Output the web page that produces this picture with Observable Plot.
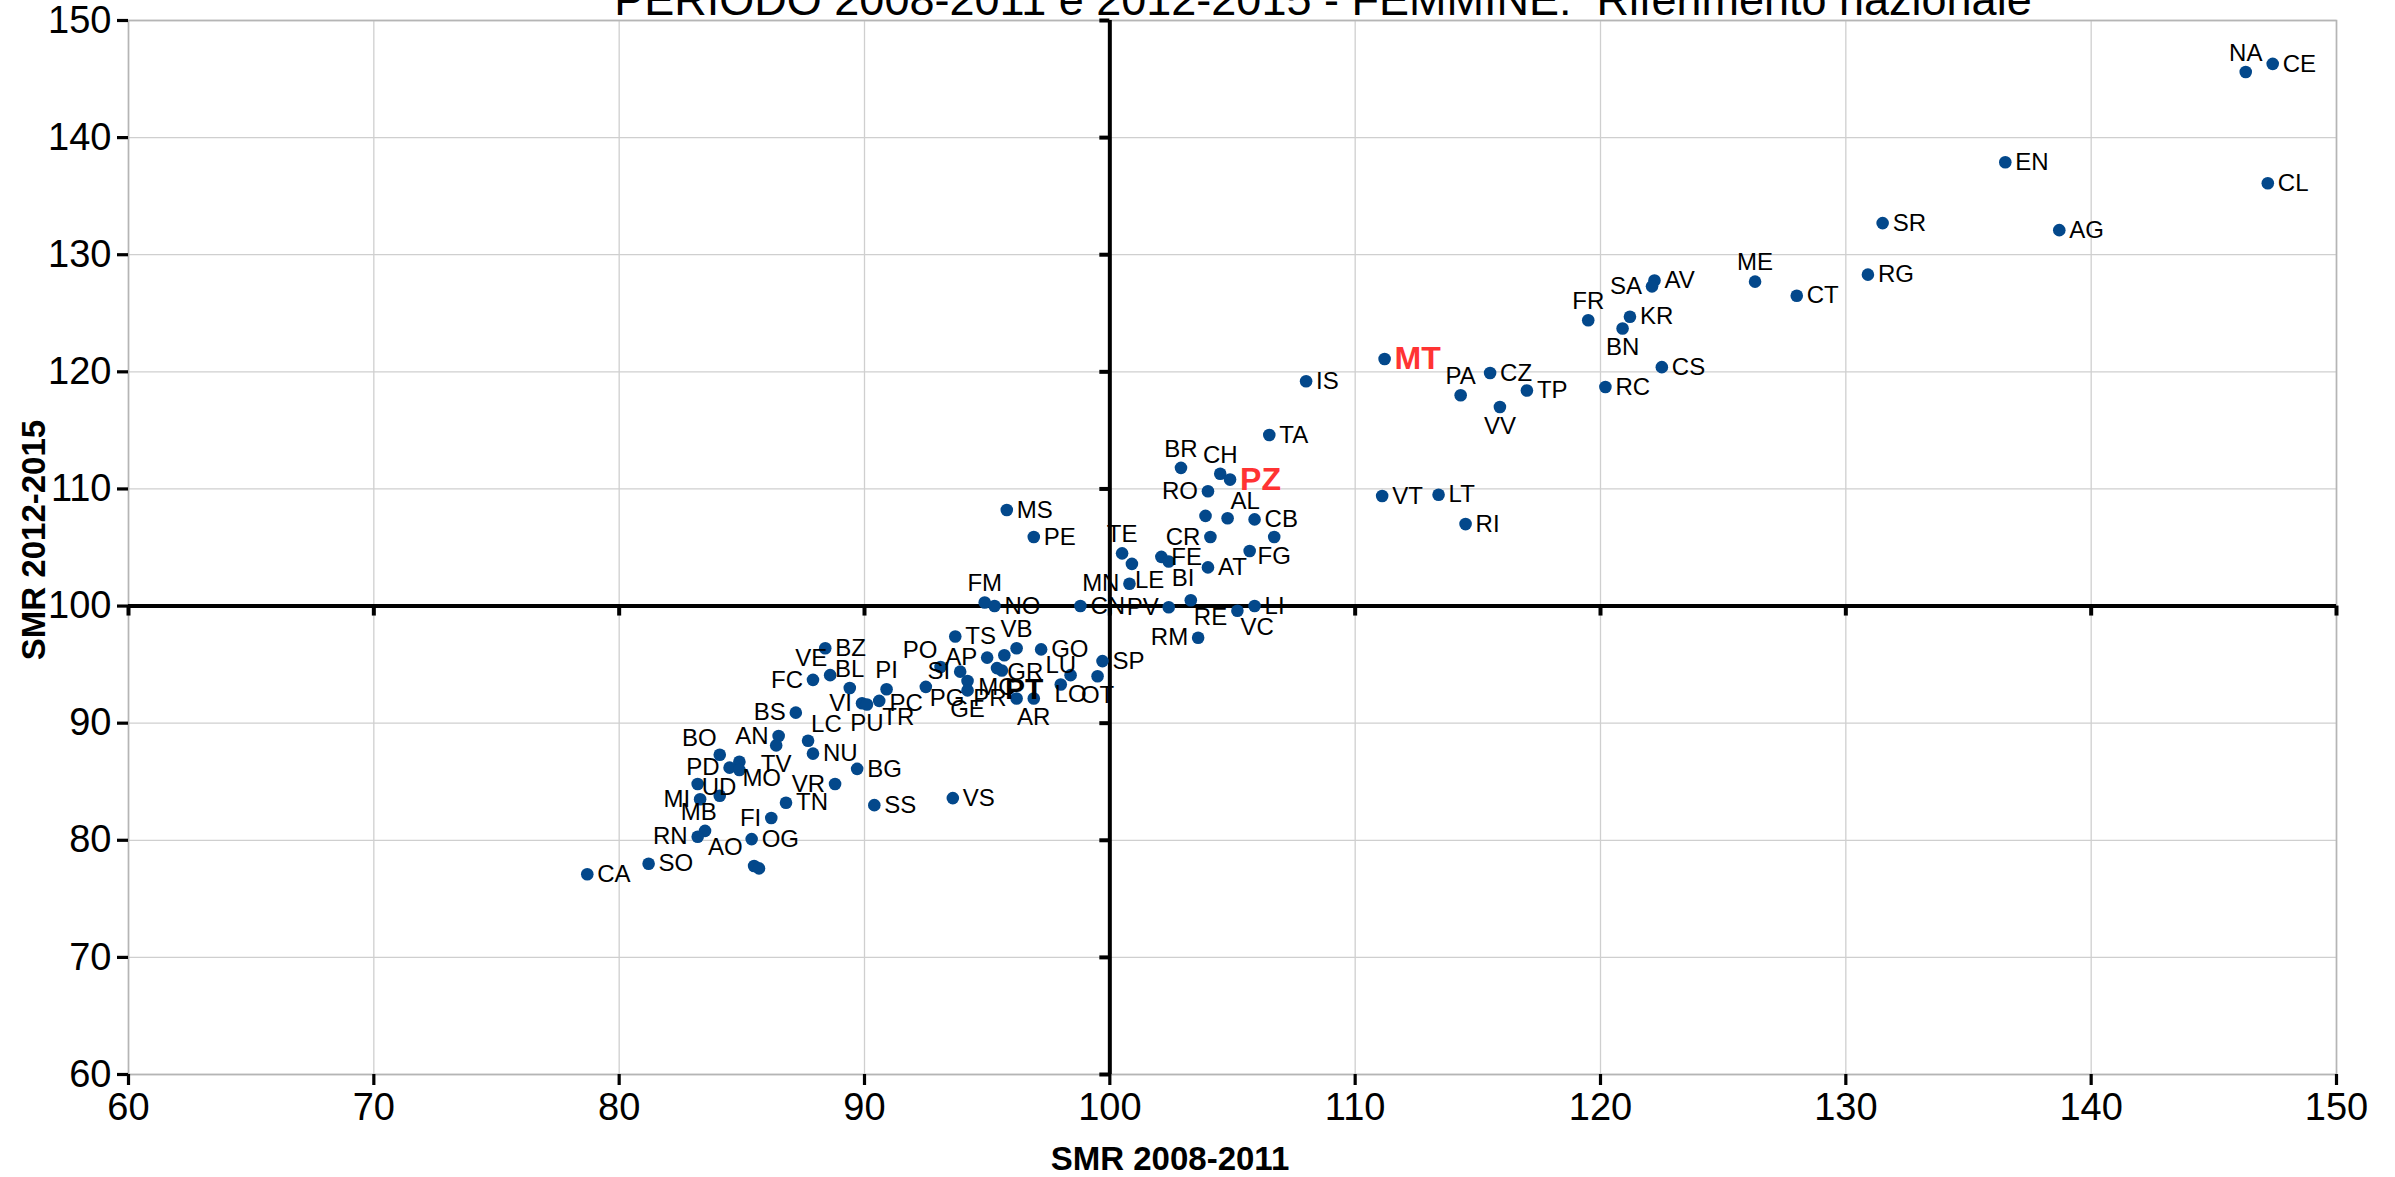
<!DOCTYPE html>
<html><head><meta charset="utf-8">
<script src="https://cdn.jsdelivr.net/npm/d3@7"></script>
<script src="https://cdn.jsdelivr.net/npm/@observablehq/plot@0.6"></script>
<style>
body{margin:0;background:#fff;}
#chart{position:relative;width:2395px;height:1177px;overflow:hidden;background:#fff}
</style>
</head><body><div id="chart"></div>
<script>
// ---- data ----
const provinces = ["NA","CE","EN","CL","AG","SR","RG","CT","ME","AV","SA","KR","BN","FR","CS","RC","TP","CZ","VV","PA","MT","IS","VT","LT","RI",
 "TA","BR","CH","PZ","RO","AQ","AL","CB","FG","CR","TO","AT","TE","LE","FE","BI","MN","RE","PV","CN","VC","LI","RM","MS","PE",
 "FM","NO","TS","VB","AP","GR","GO","SP","OT","LO","LU","PR","AR","MC","PT","PG","GE","SI","PO","PC",
 "PI","VI","PU","TR","BL","BZ","VE","FC","BG","SS","VS","BS","AN","TV","LC","NU","VR","TN","FI","OG","CI","OR",
 "MO","PD","UD","BO","MB","MI","VA","AO","RN","SO","CA"];
const smr2008_2011 = [146.3,147.4,136.5,147.2,138.7,131.5,130.9,128.0,126.3,122.2,122.1,121.2,120.9,119.5,122.5,120.2,117.0,115.5,115.9,114.3,111.2,108.0,111.1,113.4,114.5,
 106.5,102.9,104.5,104.9,104.0,103.9,104.8,105.9,106.7,104.1,105.7,104.0,100.5,100.9,102.1,102.4,100.8,103.3,102.4,98.8,105.2,105.9,103.6,95.8,96.9,
 94.9,95.3,93.7,96.2,95.0,95.7,97.2,99.7,99.5,98.4,98.0,96.2,96.9,95.4,95.6,94.2,94.2,93.9,93.1,92.5,
 90.9,89.9,90.1,90.6,89.4,88.4,88.6,87.9,89.7,90.4,93.6,87.2,86.5,86.4,87.7,87.9,88.8,86.8,86.2,85.4,85.5,85.7,
 84.9,84.5,84.9,84.1,84.1,83.3,83.2,83.5,83.2,81.2,78.7];
const smr2012_2015 = [145.6,146.3,137.9,136.1,132.1,132.7,128.3,126.5,127.7,127.8,127.3,124.7,123.7,124.4,120.4,118.7,118.4,119.9,117.0,118.0,121.1,119.2,109.4,109.5,107.0,
 114.6,111.8,111.3,110.8,109.8,107.7,107.5,107.4,105.9,105.9,104.7,103.3,104.5,103.6,104.2,103.8,101.9,100.5,99.9,100.0,99.6,100.0,97.3,108.2,105.9,
 100.3,100.0,97.4,96.4,95.6,95.8,96.3,95.3,94.0,94.1,93.3,92.1,92.1,94.7,94.5,93.6,92.8,94.4,94.8,93.1,
 92.9,91.7,91.6,91.9,93.0,96.4,94.1,93.7,86.1,83.0,83.6,90.9,88.9,88.1,88.5,87.4,84.8,83.2,81.9,80.1,77.8,77.6,
 86.7,86.2,86.0,87.3,83.8,83.5,84.8,80.8,80.3,78.0,77.1];
const unlabeled = ["AQ","TO","CI","OR","VA"];
const redLabels = ["MT","PZ"];
const boldLabels = ["PT"];
const xTicks = [60,70,80,90,100,110,120,130,140,150];
const yTicks = [60,70,80,90,100,110,120,130,140,150];
const reference = 100;
const titleText = "PERIODO 2008-2011 e 2012-2015 - FEMMINE:  Riferimento nazionale";
const xLabel = "SMR 2008-2011";
const yLabel = "SMR 2012-2015";

// ---- layout ----
const W = 2395, H = 1177;
const mL = 128, mR = 59, mT = 20, mB = 103;
const font = "'Liberation Sans', Arial, Helvetica, sans-serif";
const xs = d3.scaleLinear([60,150],[mL, W-mR]);
const ys = d3.scaleLinear([60,150],[H-mB, mT]);

const data = provinces.map((p,i)=>({p, x: smr2008_2011[i], y: smr2012_2015[i]}));

// ---- simple greedy label placement in pixel space ----
const R = 6.3;
const dotBoxes = data.map(d=>{const px=xs(d.x),py=ys(d.y);return [px-R,py-R,px+R,py+R];});
const placed = [];
function inter(a,b){const w=Math.min(a[2],b[2])-Math.max(a[0],b[0]);const h=Math.min(a[3],b[3])-Math.max(a[1],b[1]);return (w>0&&h>0)?w*h:0;}
const labels = [];
data.forEach((d,i)=>{
  if (unlabeled.includes(d.p)) return;
  const red = redLabels.includes(d.p), bold = boldLabels.includes(d.p);
  const fs = red ? 32 : bold ? 30 : 24;
  const w = d.p.length * fs * (red||bold ? 0.74 : 0.68);
  const h = fs * 0.74;
  const px = xs(d.x), py = ys(d.y), g = 10;
  const cands = [
    {a:"start", cx:px+g, cy:py},
    {a:"middle", cx:px, cy:py-g-h/2},
    {a:"end", cx:px-g, cy:py},
    {a:"middle", cx:px, cy:py+g+h/2},
    {a:"start", cx:px+3, cy:py-g-h/2+2},
    {a:"end", cx:px-3, cy:py-g-h/2+2},
    {a:"start", cx:px+3, cy:py+g+h/2-2},
    {a:"end", cx:px-3, cy:py+g+h/2-2}
  ];
  let best=null,bestCost=Infinity;
  cands.forEach((c,k)=>{
    const x0 = c.a==="start"?c.cx:c.a==="end"?c.cx-w:c.cx-w/2;
    const box=[x0,c.cy-h/2,x0+w,c.cy+h/2];
    let cost=k*0.5;
    placed.forEach(b=>cost+=inter(box,b)*2);
    dotBoxes.forEach((b,j)=>{ if(j!==i) cost+=inter(box,b)*3; });
    if (box[0]<mL||box[2]>W-mR||box[1]<mT||box[3]>H-mB) cost+=5000;
    if (cost<bestCost){bestCost=cost;best={c,box};}
  });
  placed.push(best.box);
  labels.push({p:d.p, lx: xs.invert(best.c.cx), ly: ys.invert(best.c.cy), anchor: best.c.a, fs,
    fill: red ? "#ff3333" : "#000", weight: (red||bold) ? "bold" : "normal"});
});

function textMarks(anchor, weight){
  return Plot.text(labels.filter(l=>l.anchor===anchor && l.weight===weight), {
    x:"lx", y:"ly", text:"p", textAnchor: anchor, lineAnchor:"middle",
    fontSize: "fs", fill: "fill", fontWeight: weight, fontFamily: font
  });
}

const tickDY = 10 / ((H-mB-mT)/90);
const tickDX = 10 / ((W-mR-mL)/90);

const chart = Plot.plot({
  width: W, height: H,
  marginLeft: mL, marginRight: mR, marginTop: mT, marginBottom: mB,
  style: {fontFamily: font, background: "#fff", overflow: "visible"},
  x: {domain:[60,150]},
  y: {domain:[60,150]},
  marks: [
    Plot.gridX(xTicks, {stroke:"#cfcfcf", strokeOpacity:1, strokeWidth:1.3}),
    Plot.gridY(yTicks, {stroke:"#cfcfcf", strokeOpacity:1, strokeWidth:1.3}),
    Plot.frame({stroke:"#b5b5b5", strokeWidth:1.6}),
    Plot.axisX(xTicks, {tickSize:11, tickPadding:8, strokeWidth:3.2, stroke:"#000", fontSize:38, fill:"#000", label:null, tickFormat: d=>String(d)}),
    Plot.axisY(yTicks, {tickSize:11, tickPadding:6, strokeWidth:3.2, stroke:"#000", fontSize:38, fill:"#000", label:null, tickFormat: d=>String(d)}),
    Plot.ruleX([reference], {stroke:"#000", strokeWidth:4}),
    Plot.ruleY([reference], {stroke:"#000", strokeWidth:4}),
    Plot.ruleX(xTicks, {x: d=>d, y1: reference, y2: reference - tickDY, stroke:"#000", strokeWidth:4}),
    Plot.ruleY(yTicks, {y: d=>d, x1: reference - tickDX, x2: reference, stroke:"#000", strokeWidth:4}),
    Plot.dot(data, {x:"x", y:"y", r:R, fill:"#03488b", stroke:"none"}),
    textMarks("start","normal"), textMarks("middle","normal"), textMarks("end","normal"),
    textMarks("start","bold"), textMarks("middle","bold"), textMarks("end","bold")
  ]
});

const svg = d3.select(chart);
svg.append("text").attr("x", 1323).attr("y", 15).attr("text-anchor","middle")
  .style("white-space","pre").attr("font-size", 45).attr("font-family", font).attr("fill","#000").text(titleText);
svg.append("text").attr("x", 1170).attr("y", 1170).attr("text-anchor","middle")
  .attr("font-size", 33).attr("font-weight","bold").attr("font-family", font).attr("fill","#000").text(xLabel);
svg.append("text").attr("transform","translate(45,540) rotate(-90)").attr("text-anchor","middle")
  .attr("font-size", 33).attr("font-weight","bold").attr("font-family", font).attr("fill","#000").text(yLabel);

document.getElementById("chart").appendChild(chart);
</script></body></html>
